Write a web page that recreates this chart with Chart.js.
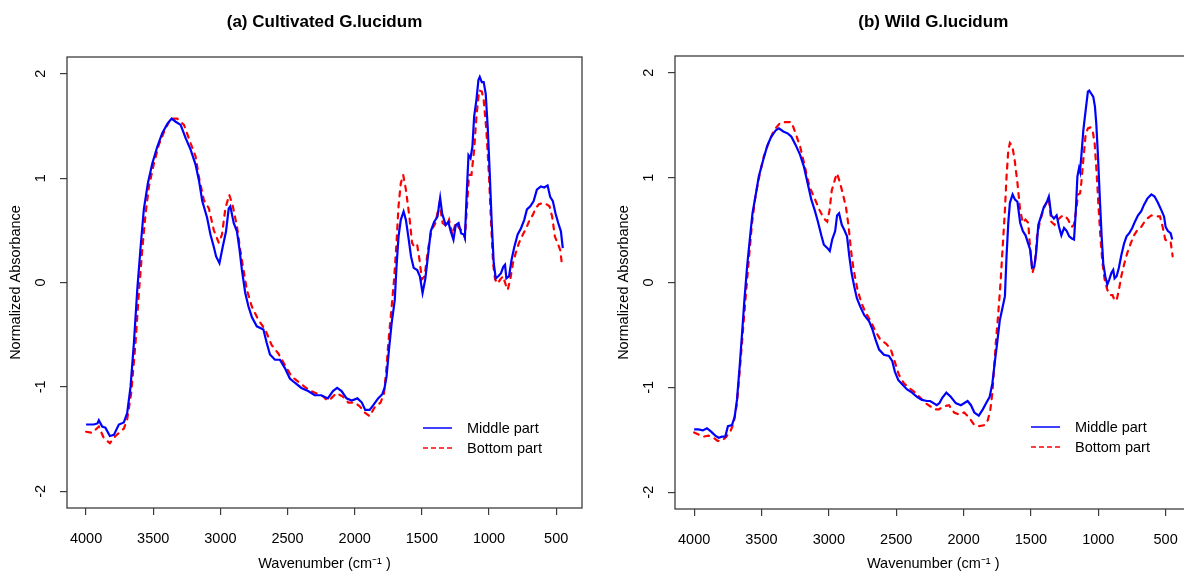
<!DOCTYPE html>
<html>
<head>
<meta charset="utf-8">
<title>FTIR spectra of G.lucidum</title>
<script src="https://cdn.jsdelivr.net/npm/chart.js@4.4.1/dist/chart.umd.min.js"></script>
<style>
  html, body { margin: 0; padding: 0; background: #fff; }
  body { width: 1184px; height: 574px; overflow: hidden; position: relative; }
  canvas { position: absolute; top: 0; }
  #cultivated { left: 0; }
  #wild { left: 608px; }
</style>
</head>
<body>
<canvas id="cultivated" width="592" height="574"></canvas>
<canvas id="wild" width="600" height="574"></canvas>
<script>
const FONT = '"Liberation Sans", Arial, Helvetica, sans-serif';

const xTicks = [4000, 3500, 3000, 2500, 2000, 1500, 1000, 500];
const yTicks = [-2, -1, 0, 1, 2];
const seriesLabels = ["Middle part", "Bottom part"];

// (a) cultivated, middle part
const cultMidWn = [4000, 3943, 3915, 3905, 3880, 3856, 3823, 3793, 3756, 3719, 3694, 3669, 3644, 3619, 3594, 3570, 3540, 3507, 3470, 3433, 3395, 3363, 3333, 3296, 3258, 3221, 3185, 3160, 3135, 3099, 3074, 3049, 3032, 3007, 2983, 2958, 2938, 2926, 2901, 2877, 2857, 2840, 2815, 2791, 2766, 2729, 2680, 2655, 2631, 2594, 2557, 2520, 2483, 2446, 2397, 2347, 2298, 2249, 2200, 2162, 2131, 2098, 2061, 2023, 1980, 1947, 1922, 1889, 1859, 1826, 1795, 1778, 1763, 1745, 1725, 1702, 1689, 1674, 1657, 1636, 1619, 1601, 1581, 1561, 1535, 1515, 1495, 1475, 1455, 1434, 1409, 1384, 1364, 1349, 1323, 1303, 1285, 1265, 1248, 1227, 1207, 1187, 1180, 1168, 1153, 1138, 1124, 1111, 1094, 1079, 1069, 1054, 1040, 1025, 1010, 995, 980, 965, 950, 931, 911, 894, 881, 871, 851, 832, 812, 787, 762, 738, 718, 693, 668, 644, 614, 589, 564, 545, 525, 505, 485, 465, 451];
const cultMidAbs = [-1.36, -1.36, -1.35, -1.32, -1.38, -1.39, -1.47, -1.46, -1.36, -1.34, -1.25, -1.0, -0.58, -0.07, 0.34, 0.70, 0.95, 1.14, 1.30, 1.43, 1.52, 1.57, 1.54, 1.51, 1.38, 1.27, 1.13, 0.98, 0.78, 0.62, 0.46, 0.34, 0.25, 0.185, 0.34, 0.49, 0.71, 0.73, 0.57, 0.49, 0.31, 0.12, -0.10, -0.23, -0.33, -0.42, -0.45, -0.58, -0.69, -0.74, -0.74, -0.82, -0.92, -0.96, -1.01, -1.04, -1.08, -1.08, -1.11, -1.04, -1.01, -1.04, -1.11, -1.13, -1.11, -1.15, -1.22, -1.22, -1.17, -1.11, -1.07, -1.01, -0.90, -0.64, -0.39, -0.17, 0.15, 0.44, 0.60, 0.68, 0.60, 0.44, 0.25, 0.14, 0.12, 0.06, -0.10, 0.03, 0.25, 0.49, 0.58, 0.63, 0.81, 0.66, 0.55, 0.58, 0.49, 0.41, 0.55, 0.57, 0.47, 0.46, 0.43, 0.80, 1.22, 1.19, 1.30, 1.59, 1.75, 1.94, 1.97, 1.92, 1.92, 1.81, 1.49, 1.05, 0.57, 0.185, 0.04, 0.06, 0.09, 0.15, 0.17, 0.04, 0.06, 0.22, 0.34, 0.46, 0.52, 0.60, 0.70, 0.73, 0.78, 0.89, 0.92, 0.91, 0.93, 0.82, 0.78, 0.66, 0.57, 0.49, 0.33];

// (a) cultivated, bottom part
const cultBotWn = [4000, 3955, 3905, 3868, 3823, 3781, 3719, 3694, 3664, 3632, 3607, 3582, 3557, 3532, 3495, 3458, 3420, 3371, 3321, 3271, 3221, 3185, 3160, 3123, 3086, 3049, 3012, 2988, 2963, 2934, 2909, 2877, 2852, 2828, 2803, 2766, 2717, 2667, 2618, 2569, 2520, 2470, 2421, 2372, 2323, 2273, 2236, 2204, 2175, 2136, 2091, 2048, 1997, 1960, 1922, 1889, 1854, 1808, 1783, 1765, 1750, 1727, 1707, 1689, 1674, 1657, 1639, 1619, 1593, 1573, 1556, 1535, 1518, 1500, 1480, 1455, 1429, 1399, 1369, 1346, 1316, 1298, 1273, 1248, 1222, 1197, 1180, 1168, 1149, 1131, 1111, 1094, 1074, 1054, 1040, 1020, 1000, 985, 970, 955, 936, 916, 896, 876, 861, 842, 822, 802, 777, 748, 723, 698, 673, 654, 629, 599, 574, 550, 530, 510, 490, 470, 455];
const cultBotAbs = [-1.43, -1.44, -1.38, -1.49, -1.54, -1.47, -1.40, -1.31, -1.06, -0.58, -0.10, 0.31, 0.66, 0.92, 1.14, 1.32, 1.44, 1.57, 1.57, 1.51, 1.33, 1.21, 1.01, 0.79, 0.71, 0.50, 0.38, 0.46, 0.71, 0.84, 0.74, 0.54, 0.31, 0.12, -0.07, -0.23, -0.36, -0.45, -0.60, -0.68, -0.79, -0.90, -0.95, -1.00, -1.04, -1.07, -1.09, -1.13, -1.11, -1.06, -1.09, -1.15, -1.15, -1.19, -1.25, -1.28, -1.20, -1.15, -1.07, -0.84, -0.58, -0.26, 0.03, 0.38, 0.73, 0.95, 1.03, 0.89, 0.63, 0.38, 0.34, 0.36, 0.22, 0.03, 0.06, 0.31, 0.50, 0.57, 0.76, 0.57, 0.54, 0.60, 0.46, 0.57, 0.52, 0.49, 0.43, 0.66, 1.03, 1.03, 1.27, 1.59, 1.84, 1.83, 1.75, 1.46, 1.01, 0.57, 0.185, 0.03, -0.01, 0.03, 0.06, -0.02, -0.07, 0.03, 0.185, 0.28, 0.38, 0.46, 0.52, 0.60, 0.65, 0.71, 0.75, 0.76, 0.75, 0.73, 0.63, 0.44, 0.38, 0.31, 0.15];

// (b) wild, middle part
const wildMidWn = [4000, 3968, 3935, 3905, 3876, 3843, 3818, 3793, 3769, 3749, 3719, 3699, 3682, 3662, 3644, 3627, 3607, 3587, 3567, 3545, 3520, 3487, 3458, 3428, 3395, 3371, 3338, 3303, 3278, 3246, 3214, 3184, 3160, 3130, 3105, 3081, 3056, 3037, 3012, 2993, 2975, 2953, 2939, 2924, 2904, 2885, 2865, 2848, 2831, 2811, 2792, 2767, 2738, 2701, 2676, 2652, 2627, 2591, 2554, 2529, 2510, 2485, 2456, 2419, 2382, 2346, 2309, 2272, 2248, 2223, 2199, 2179, 2158, 2128, 2095, 2058, 2020, 1970, 1945, 1920, 1887, 1857, 1832, 1806, 1786, 1769, 1751, 1731, 1711, 1693, 1681, 1668, 1656, 1636, 1618, 1600, 1580, 1560, 1540, 1520, 1505, 1492, 1475, 1460, 1445, 1425, 1404, 1384, 1367, 1349, 1329, 1309, 1291, 1274, 1254, 1234, 1216, 1196, 1180, 1167, 1155, 1143, 1136, 1126, 1111, 1094, 1077, 1067, 1052, 1037, 1025, 1015, 1002, 988, 975, 963, 948, 933, 918, 903, 889, 879, 864, 847, 829, 809, 790, 770, 748, 728, 705, 681, 661, 636, 606, 582, 557, 532, 512, 500, 483, 463, 451];
const wildMidAbs = [-1.40, -1.40, -1.41, -1.39, -1.42, -1.46, -1.48, -1.47, -1.47, -1.37, -1.36, -1.28, -1.12, -0.80, -0.48, -0.17, 0.15, 0.41, 0.66, 0.82, 1.01, 1.17, 1.30, 1.39, 1.45, 1.47, 1.44, 1.42, 1.39, 1.31, 1.22, 1.10, 0.96, 0.79, 0.69, 0.58, 0.45, 0.36, 0.33, 0.30, 0.41, 0.49, 0.64, 0.66, 0.55, 0.50, 0.44, 0.25, 0.09, -0.04, -0.15, -0.23, -0.31, -0.37, -0.45, -0.55, -0.64, -0.69, -0.70, -0.75, -0.85, -0.93, -0.97, -1.02, -1.05, -1.09, -1.12, -1.13, -1.13, -1.15, -1.17, -1.15, -1.10, -1.05, -1.09, -1.15, -1.17, -1.13, -1.17, -1.24, -1.27, -1.21, -1.15, -1.09, -0.96, -0.77, -0.58, -0.36, -0.24, -0.13, 0.25, 0.57, 0.76, 0.84, 0.79, 0.77, 0.57, 0.49, 0.45, 0.37, 0.31, 0.14, 0.15, 0.30, 0.55, 0.63, 0.72, 0.76, 0.82, 0.64, 0.61, 0.64, 0.53, 0.45, 0.52, 0.49, 0.44, 0.42, 0.41, 0.68, 1.01, 1.09, 1.06, 1.20, 1.45, 1.64, 1.82, 1.83, 1.80, 1.77, 1.68, 1.52, 1.20, 0.79, 0.44, 0.18, 0.06, -0.02, 0.03, 0.09, 0.12, 0.04, 0.06, 0.14, 0.26, 0.37, 0.44, 0.47, 0.52, 0.58, 0.64, 0.68, 0.74, 0.80, 0.84, 0.82, 0.76, 0.69, 0.63, 0.53, 0.49, 0.47, 0.41];

// (b) wild, bottom part
const wildBotWn = [4000, 3968, 3930, 3893, 3856, 3826, 3793, 3761, 3731, 3706, 3682, 3657, 3637, 3617, 3594, 3570, 3545, 3512, 3483, 3445, 3408, 3363, 3321, 3278, 3246, 3214, 3184, 3160, 3142, 3105, 3069, 3037, 3012, 2995, 2978, 2953, 2939, 2919, 2897, 2873, 2853, 2836, 2816, 2787, 2757, 2726, 2689, 2652, 2615, 2578, 2542, 2512, 2480, 2444, 2400, 2358, 2321, 2284, 2248, 2211, 2183, 2146, 2108, 2070, 2033, 1995, 1957, 1920, 1882, 1844, 1819, 1801, 1786, 1774, 1761, 1744, 1726, 1711, 1693, 1681, 1668, 1656, 1638, 1621, 1600, 1580, 1560, 1540, 1520, 1505, 1487, 1470, 1455, 1435, 1409, 1384, 1367, 1349, 1324, 1299, 1274, 1249, 1224, 1198, 1181, 1163, 1150, 1135, 1126, 1111, 1094, 1077, 1057, 1042, 1027, 1012, 998, 983, 968, 953, 933, 913, 894, 879, 864, 847, 829, 809, 785, 760, 735, 710, 686, 661, 636, 606, 574, 542, 522, 503, 483, 463, 448];
const wildBotAbs = [-1.43, -1.45, -1.47, -1.46, -1.48, -1.51, -1.51, -1.47, -1.42, -1.34, -1.15, -0.77, -0.45, -0.13, 0.22, 0.57, 0.82, 1.04, 1.20, 1.34, 1.45, 1.52, 1.53, 1.53, 1.42, 1.30, 1.14, 1.00, 0.91, 0.80, 0.69, 0.61, 0.58, 0.69, 0.88, 0.99, 1.04, 0.96, 0.85, 0.72, 0.53, 0.31, 0.12, -0.07, -0.20, -0.29, -0.37, -0.47, -0.55, -0.58, -0.63, -0.75, -0.88, -0.96, -1.01, -1.05, -1.10, -1.15, -1.18, -1.21, -1.21, -1.18, -1.17, -1.24, -1.26, -1.24, -1.29, -1.36, -1.37, -1.36, -1.31, -1.21, -1.05, -0.83, -0.58, -0.32, -0.01, 0.31, 0.69, 1.01, 1.26, 1.33, 1.30, 1.17, 0.95, 0.69, 0.57, 0.60, 0.57, 0.31, 0.10, 0.18, 0.44, 0.57, 0.69, 0.77, 0.80, 0.58, 0.55, 0.60, 0.63, 0.64, 0.60, 0.53, 0.55, 0.70, 0.84, 0.85, 0.95, 1.17, 1.41, 1.47, 1.48, 1.45, 1.33, 1.04, 0.72, 0.41, 0.18, 0.03, -0.07, -0.12, -0.12, -0.17, -0.17, -0.07, 0.06, 0.17, 0.28, 0.37, 0.45, 0.50, 0.52, 0.57, 0.61, 0.64, 0.63, 0.63, 0.53, 0.41, 0.39, 0.39, 0.25];

Chart.defaults.font.family = FONT;
Chart.defaults.font.size = 14.5;
Chart.defaults.color = "#000";

const AXIS = "#3c3c3c";

function points(wn, abs) {
  return wn.map((x, i) => ({ x, y: abs[i] }));
}

// R-style frame: box round the plot region, bold title, legend inside
const rFrame = {
  id: "rFrame",
  afterDatasetsDraw(chart, args, opts) {
    const { ctx, chartArea: a } = chart;
    ctx.save();
    ctx.strokeStyle = AXIS;
    ctx.lineWidth = 1.3;
    ctx.strokeRect(a.left, a.top, a.right - a.left, a.bottom - a.top);

    ctx.fillStyle = "#000";
    ctx.font = `bold 17px ${FONT}`;
    ctx.textAlign = "center";
    ctx.textBaseline = "middle";
    ctx.fillText(opts.title, (a.left + a.right) / 2, 22);

    ctx.font = `14.5px ${FONT}`;
    ctx.textAlign = "left";
    chart.data.datasets.forEach((ds, i) => {
      const y = a.top + 371 + i * 20;
      ctx.beginPath();
      ctx.setLineDash(ds.borderDash && ds.borderDash.length ? [5, 3] : []);
      ctx.lineWidth = 1.5;
      ctx.strokeStyle = ds.borderColor;
      ctx.moveTo(a.left + 356, y);
      ctx.lineTo(a.left + 385, y);
      ctx.stroke();
      ctx.setLineDash([]);
      ctx.fillText(ds.label, a.left + 400, y + 1);
    });
    ctx.restore();
  },
};

function makeSpectrum(canvasId, title, mid, bot, geo) {
  const el = document.getElementById(canvasId);
  const tickGrid = { drawOnChartArea: false, drawTicks: true, tickLength: 7, color: AXIS, lineWidth: 1.2 };
  return new Chart(el, {
    type: "line",
    data: {
      datasets: [
        { label: seriesLabels[0], data: mid, borderColor: "#0000ff", borderWidth: 2.2, pointRadius: 0, tension: 0 },
        {
          label: seriesLabels[1],
          data: bot,
          borderColor: "#ff0000",
          borderWidth: 2.2,
          borderDash: [5, 6],
          borderCapStyle: "round",
          pointRadius: 0,
          tension: 0,
        },
      ],
    },
    options: {
      responsive: false,
      animation: false,
      events: [],
      layout: { padding: { left: 0, top: geo.top, right: el.width - geo.right, bottom: 0 } },
      plugins: { legend: { display: false }, tooltip: { enabled: false }, rFrame: { title } },
      scales: {
        x: {
          type: "linear",
          reverse: true,
          min: 308,
          max: 4142,
          afterBuildTicks: (s) => { s.ticks = xTicks.map((v) => ({ value: v })); },
          afterFit: (s) => { s.height = el.height - geo.bottom; },
          grid: tickGrid,
          border: { display: false },
          ticks: { padding: 15, maxRotation: 0, autoSkip: false, callback: (v) => String(v) },
          title: { display: true, text: "Wavenumber (cm⁻¹ )", padding: { top: 0, bottom: 1 } },
        },
        y: {
          type: "linear",
          min: -2.16,
          max: 2.16,
          afterBuildTicks: (s) => { s.ticks = yTicks.map((v) => ({ value: v })); },
          afterFit: (s) => { s.width = geo.left; },
          grid: tickGrid,
          border: { display: false },
          ticks: { padding: 13, crossAlign: "center", minRotation: 90, maxRotation: 90, callback: (v) => String(v) },
          title: { display: true, text: "Normalized Absorbance", padding: { top: 7, bottom: 0 } },
        },
      },
    },
    plugins: [rFrame],
  });
}

makeSpectrum("cultivated", "(a) Cultivated G.lucidum",
  points(cultMidWn, cultMidAbs), points(cultBotWn, cultBotAbs),
  { left: 67, top: 57, right: 582, bottom: 508 });

makeSpectrum("wild", "(b) Wild G.lucidum",
  points(wildMidWn, wildMidAbs), points(wildBotWn, wildBotAbs),
  { left: 67, top: 56, right: 583.5, bottom: 509 });
</script>
</body>
</html>
